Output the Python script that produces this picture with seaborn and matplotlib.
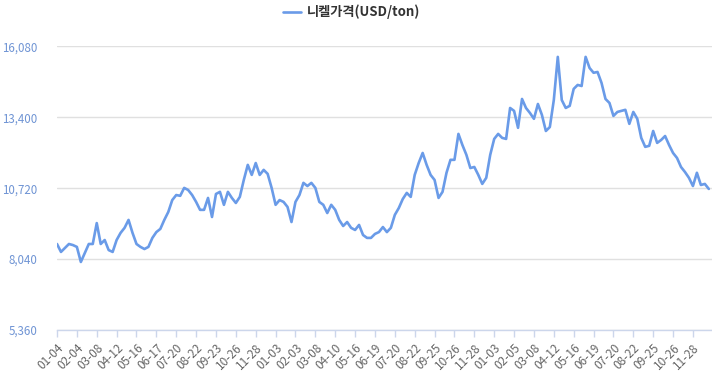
import matplotlib
matplotlib.use("Agg")
import matplotlib.pyplot as plt
import seaborn as sns
import numpy as np
import pandas as pd

tick_labels = ["01-04", "02-04", "03-08", "04-12", "05-16", "06-17", "07-20", "08-22",
               "09-23", "10-26", "11-28", "01-03", "02-03", "03-08", "04-10", "05-16",
               "06-19", "07-20", "08-22", "09-25", "10-26", "11-28", "01-03", "02-05",
               "03-08", "04-12", "05-16", "06-19", "07-20", "08-22", "09-25", "10-26",
               "11-28"]

prices = [
    8610, 8310, 8460, 8610, 8570, 8500, 7930, 8270, 8610, 8610,
    9400, 8610, 8760, 8380, 8310, 8760, 9030, 9220, 9520, 9030,
    8610, 8500, 8420, 8500, 8840, 9060, 9180, 9520, 9820, 10270,
    10460, 10430, 10730, 10650, 10460, 10200, 9900, 9900, 10350, 9630,
    10500, 10580, 10090, 10580, 10350, 10160, 10390, 11030, 11600, 11220,
    11670, 11220, 11410, 11260, 10730, 10090, 10270, 10200, 10010, 9440,
    10200, 10460, 10920, 10800, 10920, 10730, 10200, 10090, 9780, 10090,
    9900, 9520, 9290, 9440, 9220, 9140, 9330, 8950, 8840, 8840,
    8990, 9060, 9250, 9060, 9220, 9710, 9970, 10310, 10540, 10390,
    11220, 11670, 12050, 11600, 11220, 11030, 10350, 10580, 11300, 11790,
    11790, 12770, 12350, 11980, 11480, 11520, 11220, 10880, 11110, 11980,
    12580, 12770, 12620, 12580, 13750, 13640, 13000, 14090, 13750, 13560,
    13340, 13900, 13490, 12880, 13030, 14050, 15680, 14050, 13750, 13830,
    14470, 14620, 14580, 15680, 15260, 15080, 15110, 14700, 14090, 13940,
    13450, 13600, 13640, 13680, 13150, 13600, 13340, 12620, 12280, 12320,
    12880, 12430, 12540, 12690, 12350, 12050, 11860, 11520, 11330, 11110,
    10800, 11300, 10840, 10880, 10690,
]

series_name = "니켈가격(USD/ton)"
y_ticks = [5360, 8040, 10720, 13400, 16080]

df = pd.DataFrame({"idx": np.arange(len(prices)), "price": prices})

sns.set_style("white")
plt.rcParams["font.family"] = ["Noto Sans CJK KR", "DejaVu Sans"]

fig = plt.figure(figsize=(7.12, 3.76), dpi=100)
ax = fig.add_axes([57 / 712, 1 - 330 / 376, 655 / 712, (330 - 46.3) / 376])

line_color = "#6a9be8"
sns.lineplot(data=df, x="idx", y="price", ax=ax, color=line_color, linewidth=1.9,
             label=series_name, legend=False)

ax.set_xlim(0, 164.8)
ax.set_ylim(5360, 16080)
ax.set_yticks(y_ticks)
ax.set_yticklabels([f"{v:,}" for v in y_ticks], color="#6f94d4", fontsize=8.3)
ax.set_xticks(np.arange(0, 5 * len(tick_labels), 5))
ax.set_xticklabels(tick_labels, rotation=45, ha="right", rotation_mode="anchor",
                   color="#666666", fontsize=8.5)
ax.set_xlabel("")
ax.set_ylabel("")

ax.grid(axis="y", color="#e0e0e0", linewidth=1)
ax.grid(axis="x", visible=False)
for s in ["top", "right", "left"]:
    ax.spines[s].set_visible(False)
ax.spines["bottom"].set_color("#ccd6eb")
ax.spines["bottom"].set_linewidth(1)
ax.tick_params(axis="x", length=5, width=1, color="#ccd6eb", pad=3, direction="out", bottom=True)
ax.tick_params(axis="y", length=0, pad=14)

handles, labels = ax.get_legend_handles_labels()
leg = fig.legend(handles, labels, loc="center", bbox_to_anchor=(352 / 712, 1 - 12 / 376),
                 frameon=False, handlelength=1.3, handletextpad=0.5,
                 prop={"weight": "bold", "size": 9.5})
for t in leg.get_texts():
    t.set_color("#333333")

fig.savefig("out.png", dpi=100)
